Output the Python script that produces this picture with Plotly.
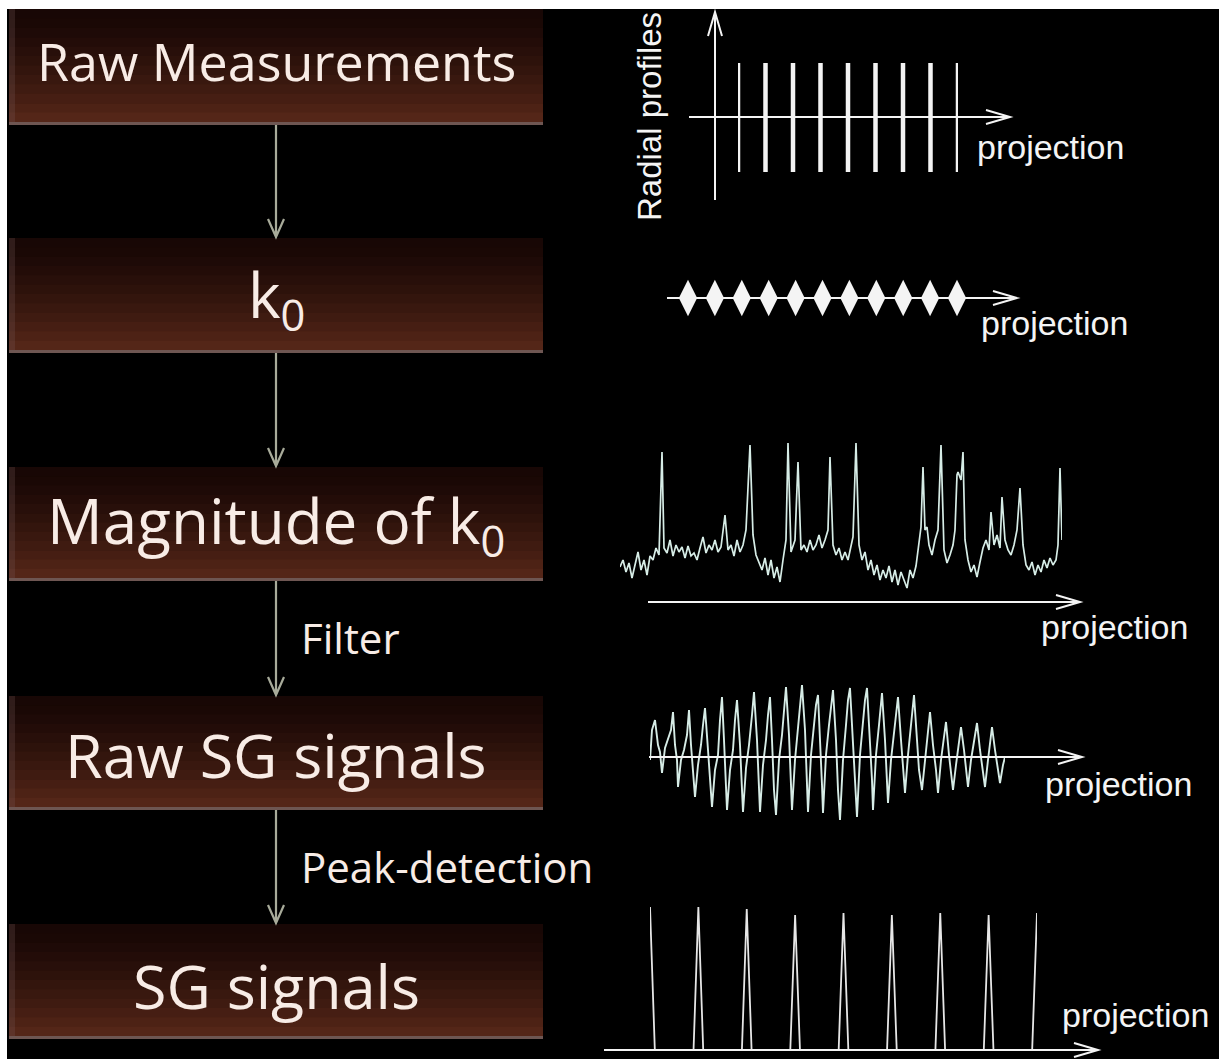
import plotly.graph_objects as go
import math

W, H = 1219, 1059

# ---------------- data ----------------
step_labels = ["Raw Measurements", "k<sub>0</sub>", "Magnitude of k<sub>0</sub>",
               "Raw SG signals", "SG signals"]
step_font = [52, 62, 62, 61, 61]
arrow_labels = ["", "", "Filter", "Peak-detection"]
axis_label = "projection"
profile_label = "Radial profiles"

# panel 1: radial profiles (one line per profile)
profile_pos = [1, 2, 3, 4, 5, 6, 7, 8, 9]
profile_lo = [-1, -1, -1, -1, -1, -1, -1, -1, -1]
profile_hi = [1, 1, 1, 1, 1, 1, 1, 1, 1]

# panel 2: k0 samples
k0_pos = [1, 2, 3, 4, 5, 6, 7, 8, 9, 10, 11]
k0_val = [0, 0, 0, 0, 0, 0, 0, 0, 0, 0, 0]

# panel 3: magnitude of k0 along projections
mag_x = [0, 3, 6, 9, 12, 15, 18, 21, 24, 27, 30, 33, 36, 39, 42, 44, 47, 50, 53, 56,
         59, 62, 65, 68, 71, 74, 77, 80, 83, 86, 89, 92, 95, 98, 101, 105, 108, 111, 114, 117,
         120, 123, 126, 130, 133, 136, 139, 142, 145, 148, 151, 154, 157, 160, 163, 166, 168, 171, 175, 178,
         181, 184, 187, 190, 193, 196, 199, 202, 205, 208, 210, 213, 216, 219, 222, 225, 228, 231, 233, 236,
         239, 242, 245, 248, 251, 254, 257, 260, 263, 266, 269, 272, 275, 278, 281, 284, 287, 290, 293, 296,
         299, 301, 303, 305, 307, 309, 312, 315, 318, 321, 324, 327, 330, 333, 335, 337, 338, 341, 343, 345,
         348, 351, 354, 357, 360, 363, 366, 369, 371, 374, 377, 380, 382, 385, 388, 391, 394, 397, 400, 403,
         406, 409, 412, 415, 418, 421, 424, 427, 430, 433, 436, 438, 440, 442]
mag_y = [33, 40, 28, 37, 22, 35, 48, 30, 40, 25, 44, 40, 52, 45, 148, 52, 47, 60, 44, 55,
         48, 53, 42, 54, 44, 47, 40, 52, 63, 47, 55, 50, 60, 48, 53, 85, 50, 55, 44, 60,
         48, 55, 70, 155, 65, 45, 37, 30, 42, 25, 40, 22, 33, 18, 40, 60, 157, 48, 60, 138,
         50, 55, 48, 60, 50, 55, 65, 52, 60, 70, 143, 55, 45, 52, 40, 48, 40, 55, 63, 157,
         55, 40, 48, 30, 40, 25, 35, 20, 30, 22, 34, 18, 30, 15, 28, 20, 12, 30, 22, 34,
         55, 73, 133, 70, 73, 55, 45, 60, 70, 155, 50, 37, 45, 55, 70, 125, 128, 120, 148, 60,
         40, 28, 35, 23, 38, 52, 60, 50, 88, 55, 65, 52, 103, 60, 50, 45, 55, 70, 112, 55,
         35, 30, 38, 25, 35, 28, 40, 32, 42, 35, 40, 55, 132, 60]

# panel 4: raw self-gating signal
sg_x = [0, 2, 5, 8, 10, 12, 15, 18, 21, 23, 25, 27, 28, 31, 34, 37, 39, 41, 43, 45,
        48, 51, 53, 55, 58, 60, 62, 65, 68, 70, 72, 74, 76, 77, 80, 83, 85, 87, 90, 92,
        93, 96, 99, 102, 104, 107, 109, 110, 113, 116, 118, 120, 122, 124, 126, 129, 132, 134, 136, 139,
        141, 142, 145, 148, 150, 152, 155, 157, 158, 161, 164, 166, 168, 170, 172, 173, 176, 179, 181, 183,
        186, 188, 190, 193, 196, 198, 200, 203, 205, 207, 210, 213, 215, 217, 220, 222, 223, 226, 229, 231,
        232, 235, 237, 238, 241, 244, 246, 248, 251, 253, 255, 258, 261, 263, 264, 267, 269, 272, 275, 278,
        280, 283, 286, 288, 291, 294, 296, 299, 301, 303, 306, 309, 311, 314, 316, 318, 321, 324, 327, 330,
        333, 335, 338, 340, 342, 345, 348, 350, 353, 355]
sg_y = [-3, 27, 37, 12, 5, -16, 9, 17, 27, 45, 12, -3, -30, -3, 7, 22, 47, 12, -13, -40,
        -8, 12, 32, 49, 7, -18, -50, -13, 2, 37, 60, 17, -23, -53, -13, 7, 37, 57, 12, -28,
        -55, -11, 12, 42, 65, 17, -28, -55, -8, 17, 42, 60, 17, -33, -58, -3, 22, 47, 70, 22,
        -23, -53, -3, 27, 52, 72, 27, -23, -55, 2, 32, 52, 62, 22, -28, -56, 2, 32, 52, 67,
        17, -33, -63, -3, 32, 57, 69, 17, -28, -60, 2, 37, 57, 69, 17, -23, -53, 2, 32, 52,
        64, 17, -18, -46, -3, 27, 47, 60, 17, -13, -36, 2, 32, 52, 62, 17, -13, -33, -3, 22,
        45, 12, -13, -36, -3, 20, 35, 2, -13, -33, -8, 17, 30, 7, -13, -30, -3, 17, 34, 7,
        -13, -30, -3, 17, 30, 7, -13, -26, -8, 0]

# panel 5: detected SG peaks
peak_pos = [1, 2, 3, 4, 5, 6, 7, 8, 9]
peak_val = [143, 143, 141, 135, 137, 135, 137, 135, 137]

# ---------------- styles ----------------
BG = "#000000"
TXT = "#f8ece6"
ARROW_L = "#a8ab9a"
WHITE = "#f4f4f4"
SIG = "#d6ece6"

fig = go.Figure()
shapes = []
annotations = []


def px_dom_x(a, b):
    return [a / W, b / W]


def px_dom_y(top, bottom):
    return [1 - bottom / H, 1 - top / H]


def arrow_path(x0, y0, x1, y1, hl, hw):
    dx, dy = x1 - x0, y1 - y0
    L = math.hypot(dx, dy)
    ux, uy = dx / L, dy / L
    bx, by = x1 - ux * hl, y1 - uy * hl
    nx, ny = -uy * hw, ux * hw
    return (f"M{x0},{y0} L{x1},{y1} M{bx + nx},{by + ny} L{x1},{y1} L{bx - nx},{by - ny}")


# background
shapes.append(dict(type="rect", xref="x", yref="y", x0=7, y0=9, x1=W + 5, y1=H + 5,
                   fillcolor=BG, line=dict(width=0), layer="below"))

# boxes
boxes = [(9, 125), (238, 353), (467, 581), (696, 810), (924, 1039)]
c_top = (24, 7, 5)
c_bot = (84, 38, 24)
n = 12
for (t, b) in boxes:
    h = (b - t - 3) / n
    for i in range(n):
        f = i / (n - 1)
        f = f ** 1.3
        col = tuple(int(c_top[k] + (c_bot[k] - c_top[k]) * f) for k in range(3))
        shapes.append(dict(type="rect", xref="x", yref="y", x0=9, x1=543,
                           y0=t + i * h, y1=t + (i + 1) * h + 0.6,
                           fillcolor="rgb(%d,%d,%d)" % col, line=dict(width=0), layer="below"))
    shapes.append(dict(type="rect", xref="x", yref="y", x0=9, x1=543, y0=b - 3, y1=b,
                       fillcolor="#6e5652", line=dict(width=0), layer="below"))
    shapes.append(dict(type="rect", xref="x", yref="y", x0=9, x1=15, y0=t, y1=b - 3,
                       fillcolor="rgba(120,90,90,0.25)", line=dict(width=0), layer="below"))

# step labels
centers_y = [60, 298, 524, 754, 985]
for lab, cy, fs in zip(step_labels, centers_y, step_font):
    annotations.append(dict(x=276, y=cy, xref="x", yref="y", text=lab, showarrow=False,
                            xanchor="center", yanchor="middle",
                            font=dict(family="Open Sans", size=fs, color=TXT)))

# arrows between boxes
for i in range(4):
    y0 = boxes[i][1]
    y1 = boxes[i + 1][0]
    shapes.append(dict(type="path", xref="x", yref="y",
                       path=arrow_path(276, y0, 276, y1 - 1, 18, 8),
                       line=dict(color=ARROW_L, width=2.2), layer="above"))
    if arrow_labels[i]:
        annotations.append(dict(x=299, y=(y0 + y1) / 2 - 1, xref="x", yref="y",
                                text=arrow_labels[i], showarrow=False,
                                xanchor="left", yanchor="middle",
                                font=dict(family="Open Sans", size=42, color=TXT)))

# right-hand axis arrows
axis_arrows = [
    (689, 117, 1010, 117),
    (715, 200, 715, 12),
    (667, 298, 1017, 298),
    (648, 602, 1080, 602),
    (649, 757, 1082, 757),
    (604, 1050, 1098, 1050),
]
for (x0, y0, x1, y1) in axis_arrows:
    shapes.append(dict(type="path", xref="x", yref="y",
                       path=arrow_path(x0, y0, x1, y1, 24, 7),
                       line=dict(color=WHITE, width=2), layer="above"))

# projection labels
proj_pos = [(1050, 147), (1054, 323), (1114, 627), (1118, 784), (1135, 1015)]
for (x, y) in proj_pos:
    annotations.append(dict(x=x, y=y, xref="x", yref="y", text=axis_label, showarrow=False,
                            xanchor="center", yanchor="middle",
                            font=dict(family="Liberation Sans", size=34, color=WHITE)))
annotations.append(dict(x=649, y=117, xref="x", yref="y", text=profile_label, showarrow=False,
                        textangle=-90, xanchor="center", yanchor="middle",
                        font=dict(family="Liberation Sans", size=33, color=WHITE)))

# ---------------- traces ----------------
fig.add_trace(go.Scatter(x=[0, W], y=[0, H], mode="markers", marker=dict(opacity=0),
                         hoverinfo="skip", xaxis="x", yaxis="y", showlegend=False))

# panel 1
px, py = [], []
for p, lo, hi in zip(profile_pos, profile_lo, profile_hi):
    px += [p, p, None]
    py += [lo, hi, None]
fig.add_trace(go.Scatter(x=px, y=py, mode="lines", line=dict(color=WHITE, width=4.5),
                         cliponaxis=False, xaxis="x2", yaxis="y2", showlegend=False))

# panel 2
fig.add_trace(go.Scatter(x=k0_pos, y=k0_val, mode="markers",
                         marker=dict(symbol="diamond-tall", size=26, color=WHITE,
                                     line=dict(width=0)),
                         cliponaxis=False, xaxis="x3", yaxis="y3", showlegend=False))

# panel 3
fig.add_trace(go.Scatter(x=mag_x, y=mag_y, mode="lines", line=dict(color=SIG, width=1.7),
                         cliponaxis=False, xaxis="x4", yaxis="y4", showlegend=False))

# panel 4
fig.add_trace(go.Scatter(x=sg_x, y=sg_y, mode="lines", line=dict(color=SIG, width=1.9),
                         cliponaxis=False, xaxis="x5", yaxis="y5", showlegend=False))

# panel 5
hw = 0.1
sx, sy = [], []
for p, v in zip(peak_pos, peak_val):
    sx += [p - hw, p, p + hw, None]
    sy += [0, v, 0, None]
fig.add_trace(go.Scatter(x=sx, y=sy, mode="lines", line=dict(color="#e6e6e6", width=1.8),
                         cliponaxis=False, xaxis="x6", yaxis="y6", showlegend=False))

hidden = dict(visible=False, showgrid=False, zeroline=False, fixedrange=True)

fig.update_layout(
    width=W, height=H,
    margin=dict(l=0, r=0, t=0, b=0),
    paper_bgcolor="white",
    plot_bgcolor="rgba(0,0,0,0)",
    showlegend=False,
    xaxis=dict(range=[0, W], domain=[0, 1], **hidden),
    yaxis=dict(range=[H, 0], domain=[0, 1], **hidden),
    xaxis2=dict(range=[1, 9], domain=px_dom_x(738, 958), anchor="y2", **hidden),
    yaxis2=dict(range=[-1, 1], domain=px_dom_y(63, 172), anchor="x2", **hidden),
    xaxis3=dict(range=[1, 11], domain=px_dom_x(688, 957), anchor="y3", **hidden),
    yaxis3=dict(range=[-1, 1], domain=px_dom_y(288, 308), anchor="x3", **hidden),
    xaxis4=dict(range=[0, 442], domain=px_dom_x(620, 1062), anchor="y4", **hidden),
    yaxis4=dict(range=[0, 160], domain=px_dom_y(440, 600), anchor="x4", **hidden),
    xaxis5=dict(range=[0, 355], domain=px_dom_x(650, 1005), anchor="y5", **hidden),
    yaxis5=dict(range=[-77, 77], domain=px_dom_y(680, 834), anchor="x5", **hidden),
    xaxis6=dict(range=[1, 9], domain=px_dom_x(650, 1037), anchor="y6", **hidden),
    yaxis6=dict(range=[0, 150], domain=px_dom_y(900, 1050), anchor="x6", **hidden),
    shapes=shapes,
    annotations=annotations,
)

fig.write_html("out.html", config={"displayModeBar": False},
               post_script="document.body.style.margin='0';document.body.style.overflow='hidden';")
